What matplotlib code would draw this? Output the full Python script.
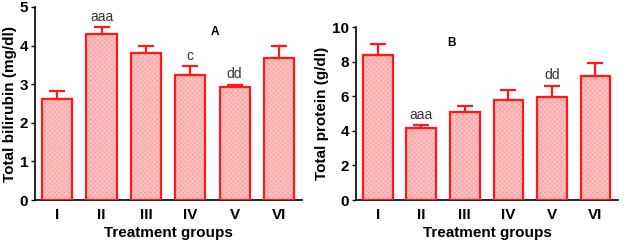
import numpy as np
import matplotlib
matplotlib.use("Agg")
import matplotlib.pyplot as plt

plt.rcParams["font.family"] = ["Liberation Sans", "DejaVu Sans"]
plt.rcParams["hatch.linewidth"] = 0.5

groups = ["I", "II", "III", "IV", "V", "VI"]

# panel A: total bilirubin
bili_mean = [2.61, 4.29, 3.80, 3.24, 2.94, 3.69]
bili_err = [0.22, 0.18, 0.20, 0.22, 0.03, 0.31]
bili_marks = ["", "aaa", "", "c", "dd", ""]

# panel B: total protein
prot_mean = [8.41, 4.17, 5.06, 5.79, 5.96, 7.17]
prot_err = [0.59, 0.16, 0.36, 0.54, 0.64, 0.77]
prot_marks = ["", "aaa", "", "", "dd", ""]

red = "#ff1a1a"
fill = "#fcc4c4"


def draw_panel(ax, means, errs, marks, ylim, yticks, ylabel, tag, tag_pos):
    x = np.arange(len(groups))
    ax.bar(x, means, width=0.68, color=fill, edgecolor="#f7a2a2",
           hatch="xxxxxxx", linewidth=0, zorder=2)
    ax.bar(x, means, width=0.68, color="none", edgecolor=red,
           linewidth=1.6, zorder=3)
    ax.errorbar(x, means, yerr=[np.zeros(len(errs)), errs], fmt="none",
                ecolor=red, elinewidth=1.6, capsize=6, capthick=1.6, zorder=1)
    for xi, m, e, t in zip(x, means, errs, marks):
        if t:
            ax.text(xi, m + e + ylim * 0.02, t, ha="center", va="bottom",
                    fontsize=10, color="#333333")
    ax.text(tag_pos[0], tag_pos[1], tag, ha="center", va="center",
            fontsize=8.5, fontweight="bold")
    ax.set_xlim(-0.5, 5.52)
    ax.set_ylim(0, ylim)
    ax.set_yticks(yticks)
    ax.set_xticks(x)
    ax.set_xticklabels(groups)
    ax.tick_params(axis="x", length=0, pad=6)
    ax.tick_params(axis="y", length=3, width=1, pad=2)
    for lab in ax.get_xticklabels() + ax.get_yticklabels():
        lab.set_fontweight("bold")
        lab.set_fontsize(11)
    ax.spines["top"].set_visible(False)
    ax.spines["right"].set_visible(False)
    ax.spines["left"].set_linewidth(1.2)
    ax.spines["bottom"].set_linewidth(1.2)
    ax.set_ylabel(ylabel, fontsize=11, fontweight="bold", labelpad=2)
    ax.set_xlabel("Treatment groups", fontsize=11, fontweight="bold", labelpad=3)


fig = plt.figure(figsize=(6.27, 2.44), dpi=100)
axA = fig.add_axes([35 / 627, 44 / 244, 267 / 627, 193 / 244])
axB = fig.add_axes([356 / 627, 44 / 244, 262 / 627, 173 / 244])

draw_panel(axA, bili_mean, bili_err, bili_marks, 5, range(0, 6),
           "Total bilirubin (mg/dl)", "A", (3.55, 4.35))
draw_panel(axB, prot_mean, prot_err, prot_marks, 10, range(0, 11, 2),
           "Total protein (g/dl)", "B", (1.7, 9.1))

fig.savefig("out.png", dpi=100)
